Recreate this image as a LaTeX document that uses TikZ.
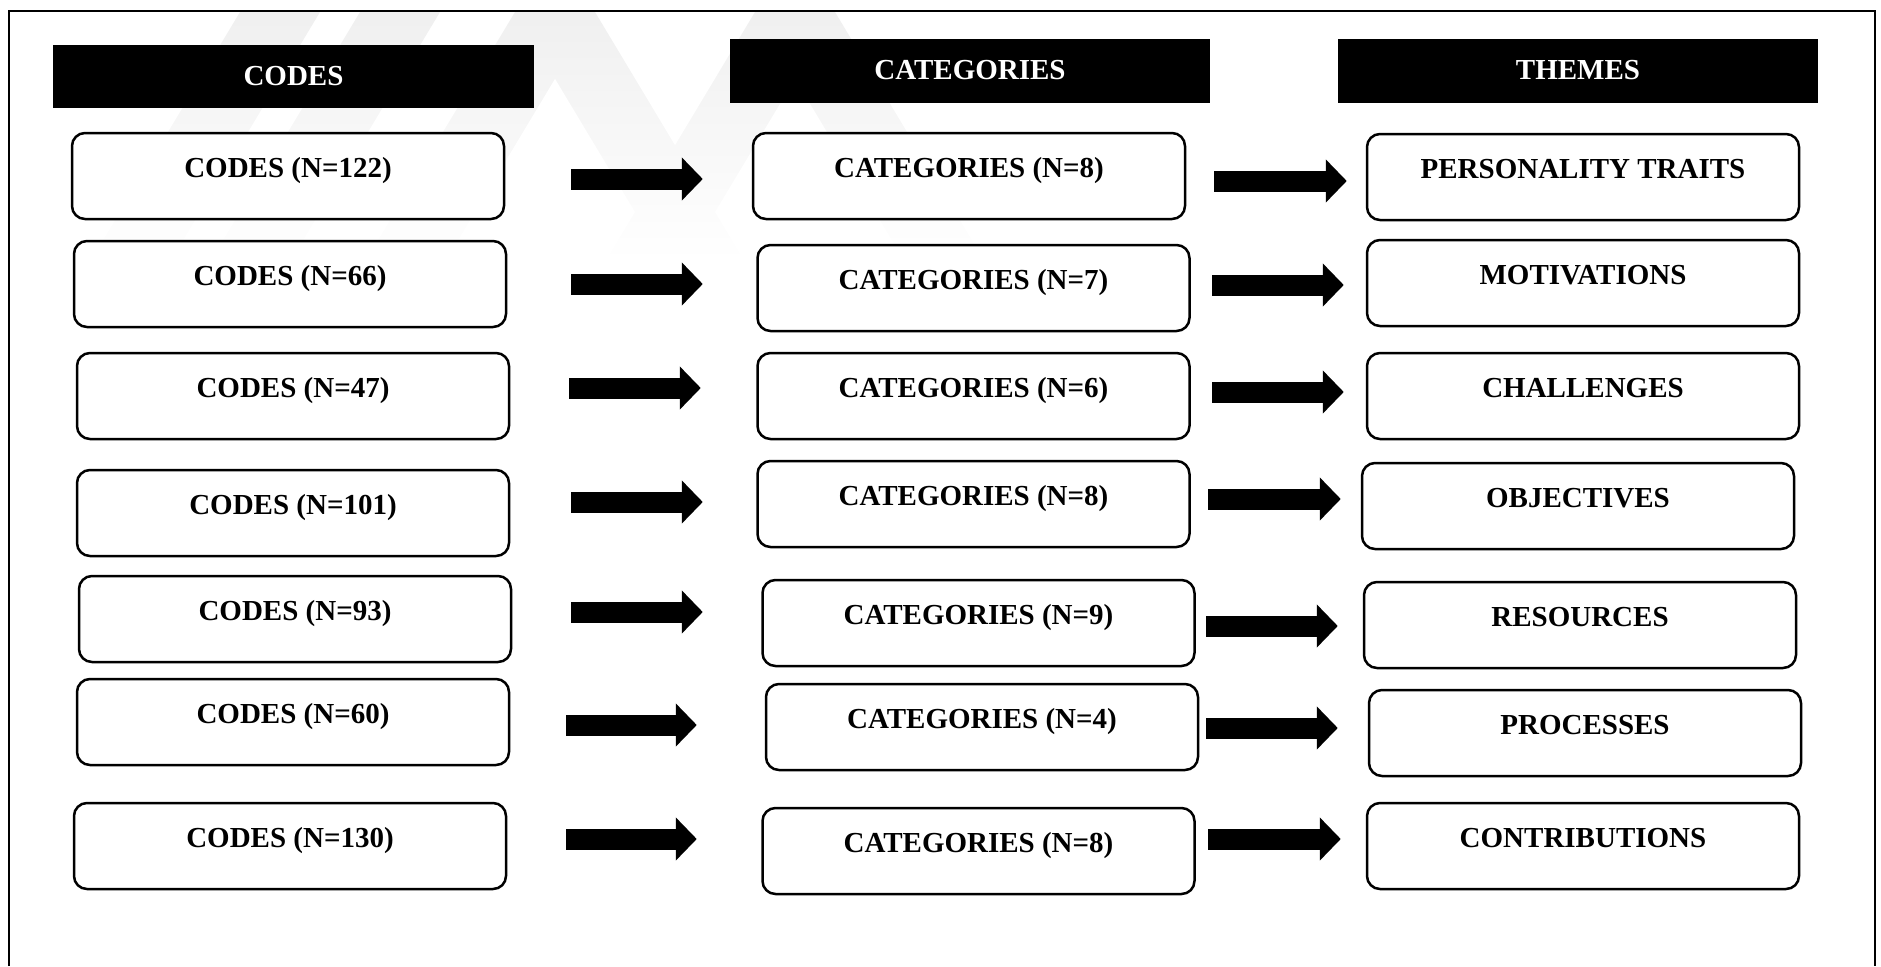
\documentclass[tikz,border=0pt]{standalone}
\usepackage{fontspec}
\setmainfont{Liberation Serif}
\usetikzlibrary{arrows.meta,calc}
\begin{document}
\begin{tikzpicture}[x=1pt,y=-1pt,
  lbl/.style={font=\fontsize{29pt}{34pt}\selectfont\bfseries},
  rbox/.style={lbl, draw=black, line width=2.5pt, rounded corners=13pt, fill=white,
    inner sep=0pt, minimum width=432pt, text height=44pt, text depth=42pt},
  headbox/.style={lbl, fill=black, text=white, inner sep=0pt,
    minimum width=481pt, text height=40pt, text depth=23pt},
  blockarrow/.style={line width=21pt, -{Triangle[length=21pt,width=42pt]}},
  wmark/.style={draw=none, top color=black!6, bottom color=white}]

\useasboundingbox (0,0) rectangle (1881,966);

% faint background emblem, fading downwards
\shade[wmark] (240,12) -- (320,12) -- (170,262) -- (90,262) -- cycle;
\shade[wmark] (360,12) -- (440,12) -- (290,262) -- (210,262) -- cycle;
\shade[wmark] (515,12) -- (595,12) -- (445,262) -- (365,262) -- cycle;
\shade[wmark] (515,12) -- (595,12) -- (745,262) -- (665,262) -- cycle;
\shade[wmark] (755,12) -- (835,12) -- (685,262) -- (605,262) -- cycle;
\shade[wmark] (755,12) -- (835,12) -- (985,262) -- (905,262) -- cycle;

% outer frame
\draw[line width=2pt] (8.5,966) -- (8.5,11) -- (1875,11) -- (1875,966);

% column headers
\node[headbox] (h1) at (293.5,76.5) {CODES};
\node[headbox, minimum width=480pt] (h2) at (970,71) {CATEGORIES};
\node[headbox, minimum width=480pt] (h3) at (1578,71) {THEMES};

% codes
\node[rbox] (c1) at (288,176) {CODES (N=122)};
\node[rbox] (c2) at (290,284) {CODES (N=66)};
\node[rbox] (c3) at (293,396) {CODES (N=47)};
\node[rbox] (c4) at (293,513) {CODES (N=101)};
\node[rbox] (c5) at (295,619) {CODES (N=93)};
\node[rbox] (c6) at (293,722) {CODES (N=60)};
\node[rbox] (c7) at (290,846) {CODES (N=130)};

% categories
\node[rbox] (k1) at (969,176) {CATEGORIES (N=8)};
\node[rbox] (k2) at (973.5,288) {CATEGORIES (N=7)};
\node[rbox] (k3) at (973.5,396) {CATEGORIES (N=6)};
\node[rbox] (k4) at (973.5,504) {CATEGORIES (N=8)};
\node[rbox] (k5) at (978.5,623) {CATEGORIES (N=9)};
\node[rbox] (k6) at (982,727) {CATEGORIES (N=4)};
\node[rbox] (k7) at (978.5,851) {CATEGORIES (N=8)};

% themes
\node[rbox] (t1) at (1583,177) {PERSONALITY TRAITS};
\node[rbox] (t2) at (1583,283) {MOTIVATIONS};
\node[rbox] (t3) at (1583,396) {CHALLENGES};
\node[rbox] (t4) at (1578,506) {OBJECTIVES};
\node[rbox] (t5) at (1580,625) {RESOURCES};
\node[rbox] (t6) at (1585,733) {PROCESSES};
\node[rbox] (t7) at (1583,846) {CONTRIBUTIONS};

% block arrows: row / y1 / gap after code / gap before category / y2 / gap after category / gap before theme
\foreach \r/\ya/\sa/\ea/\yb/\sb/\eb in {
  1/179/66/49/181/28/19,
  2/284/64/53.5/285/21.5/22,
  3/388/59/55.5/392/21.5/22,
  4/502/61/53.5/499/17.5/20,
  5/612/59/58.5/626/10.5/25,
  6/725/56/68/728/7/30,
  7/839/59/64.5/839/12.5/25}{
  \draw[blockarrow] ($(c\r.east |- 0,\ya)+(\sa,0)$) -- ($(k\r.west |- 0,\ya)-(\ea,0)$);
  \draw[blockarrow] ($(k\r.east |- 0,\yb)+(\sb,0)$) -- ($(t\r.west |- 0,\yb)-(\eb,0)$);
}
\end{tikzpicture}
\end{document}
